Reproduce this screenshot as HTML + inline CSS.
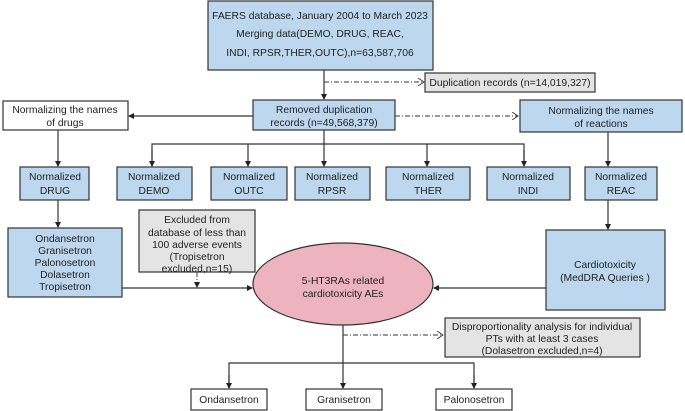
<!DOCTYPE html>
<html><head><meta charset="utf-8"><style>
html,body{margin:0;padding:0;background:#fff;}
svg{display:block;}
text{font-family:"Liberation Sans",Arial,sans-serif;font-size:10.3px;fill:#222;text-anchor:middle;}
.b{fill:#bdd7ee;stroke:#333;stroke-width:1.2;}
.w{fill:#fff;stroke:#333;stroke-width:1.2;}
.g{fill:#e4e4e4;stroke:#333;stroke-width:1.2;}
.l{stroke:#333;stroke-width:1.2;fill:none;}
.d{stroke:#333;stroke-width:0.9;fill:none;stroke-dasharray:5,2,1,2;}
</style></head><body>
<svg width="685" height="411" viewBox="0 0 685 411" xmlns="http://www.w3.org/2000/svg">
<defs>
<marker id="a" markerWidth="6" markerHeight="6" refX="5" refY="3" orient="auto" markerUnits="userSpaceOnUse"><path d="M0,0 L6,3 L0,6 z" fill="#222"/></marker>
<marker id="o" markerWidth="7" markerHeight="8" refX="6" refY="4" orient="auto" markerUnits="userSpaceOnUse"><path d="M0,0 L6,4 L0,8" fill="none" stroke="#333" stroke-width="0.9"/></marker>
</defs>
<rect class="b" x="208" y="1" width="225" height="69"/>
<text x="320" y="19">FAERS database, January 2004 to March 2023</text>
<text x="320" y="37">Merging data(DEMO, DRUG, REAC,</text>
<text x="320" y="56">INDI, RPSR,THER,OUTC),n=63,587,706</text>
<line class="l" x1="324" y1="70" x2="324" y2="99" marker-end="url(#a)"/>
<line class="d" x1="324" y1="82" x2="424" y2="82" marker-end="url(#o)"/>
<rect class="g" x="425" y="73" width="170" height="19"/>
<text x="510" y="86">Duplication records (n=14,019,327)</text>
<rect class="w" x="3" y="101" width="125" height="29"/>
<text x="65" y="113">Normalizing the names</text>
<text x="65" y="126">of drugs</text>
<rect class="b" x="253" y="100" width="142" height="30"/>
<text x="324" y="113">Removed duplication</text>
<text x="324" y="126">records (n=49,568,379)</text>
<rect class="b" x="520" y="100" width="162" height="32"/>
<text x="601" y="114">Normalizing the names</text>
<text x="601" y="127">of reactions</text>
<line class="l" x1="253" y1="116" x2="129" y2="116" marker-end="url(#a)"/>
<line class="d" x1="395" y1="116" x2="518" y2="116" marker-end="url(#o)"/>
<line class="l" x1="324" y1="130" x2="324" y2="166" marker-end="url(#a)"/>
<polyline class="l" points="152,166 152,144 524,144 524,166"/>
<line class="l" x1="248" y1="144" x2="248" y2="166" marker-end="url(#a)"/>
<line class="l" x1="427" y1="144" x2="427" y2="166" marker-end="url(#a)"/>
<line class="l" x1="152" y1="150" x2="152" y2="166" marker-end="url(#a)"/>
<line class="l" x1="524" y1="150" x2="524" y2="166" marker-end="url(#a)"/>
<line class="l" x1="58" y1="130" x2="58" y2="166" marker-end="url(#a)"/>
<line class="l" x1="608" y1="132" x2="608" y2="166" marker-end="url(#a)"/>
<rect class="b" x="20" y="167" width="69" height="33"/><text x="55" y="180">Normalized</text><text x="55" y="194">DRUG</text>
<rect class="b" x="117" y="167" width="75" height="33"/><text x="154" y="180">Normalized</text><text x="154" y="194">DEMO</text>
<rect class="b" x="211" y="167" width="76" height="33"/><text x="249" y="180">Normalized</text><text x="249" y="194">OUTC</text>
<rect class="b" x="295" y="167" width="75" height="33"/><text x="332" y="180">Normalized</text><text x="332" y="194">RPSR</text>
<rect class="b" x="386" y="167" width="84" height="33"/><text x="428" y="180">Normalized</text><text x="428" y="194">THER</text>
<rect class="b" x="487" y="167" width="83" height="33"/><text x="528" y="180">Normalized</text><text x="528" y="194">INDI</text>
<rect class="b" x="585" y="167" width="72" height="33"/><text x="621" y="180">Normalized</text><text x="621" y="194">REAC</text>
<line class="l" x1="58" y1="200" x2="58" y2="227" marker-end="url(#a)"/>
<line class="l" x1="608" y1="200" x2="608" y2="229" marker-end="url(#a)"/>
<rect class="b" x="8" y="228" width="114" height="69"/>
<text x="65" y="242">Ondansetron</text>
<text x="65" y="254">Granisetron</text>
<text x="65" y="266">Palonosetron</text>
<text x="65" y="278">Dolasetron</text>
<text x="65" y="290">Tropisetron</text>
<rect class="g" x="139" y="210" width="116" height="62"/>
<text x="197" y="223">Excluded from</text>
<text x="197" y="236">database of less than</text>
<text x="197" y="248">100 adverse events</text>
<text x="197" y="260">(Tropisetron</text>
<text x="197" y="272">excluded,n=15)</text>
<line class="d" x1="197" y1="272" x2="197" y2="287" marker-end="url(#a)"/>
<line class="l" x1="122" y1="288" x2="252" y2="288" marker-end="url(#a)"/>
<ellipse cx="343" cy="284" rx="90" ry="41" fill="#edb4c0" stroke="#333" stroke-width="1.2"/>
<text x="343" y="284">5-HT3RAs related</text>
<text x="343" y="297">cardiotoxicity AEs</text>
<rect class="b" x="546" y="230" width="119" height="80"/>
<text x="605" y="268">Cardiotoxicity</text>
<text x="605" y="281">(MedDRA Queries )</text>
<line class="l" x1="546" y1="288" x2="434" y2="288" marker-end="url(#a)"/>
<line class="d" x1="343" y1="335" x2="443" y2="335" marker-end="url(#o)"/>
<rect class="g" x="445" y="318" width="195" height="39"/>
<text x="542" y="330">Disproportionality analysis for individual</text>
<text x="542" y="342">PTs with at least 3 cases</text>
<text x="542" y="354">(Dolasetron  excluded,n=4)</text>
<line class="l" x1="343" y1="325" x2="343" y2="388" marker-end="url(#a)"/>
<polyline class="l" points="229,388 229,363 474,363 474,388"/>
<line class="l" x1="229" y1="375" x2="229" y2="388" marker-end="url(#a)"/>
<line class="l" x1="474" y1="375" x2="474" y2="388" marker-end="url(#a)"/>
<rect class="w" x="191" y="389" width="76" height="21"/><text x="229" y="403">Ondansetron</text>
<rect class="w" x="306" y="389" width="76" height="21"/><text x="344" y="403">Granisetron</text>
<rect class="w" x="436" y="389" width="76" height="21"/><text x="474" y="403">Palonosetron</text>
</svg>
</body></html>
